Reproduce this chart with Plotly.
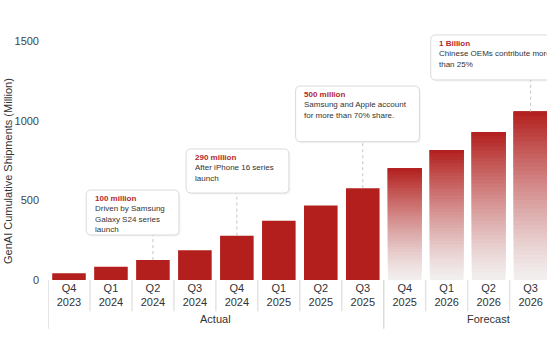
import plotly.graph_objects as go

# ---------------- data ----------------
quarters = ["Q4", "Q1", "Q2", "Q3", "Q4", "Q1", "Q2", "Q3", "Q4", "Q1", "Q2", "Q3"]
years = ["2023", "2024", "2024", "2024", "2024", "2025", "2025", "2025", "2025", "2026", "2026", "2026"]
shipments = [42, 83, 125, 187, 279, 373, 469, 577, 702, 817, 931, 1058]
is_forecast = [False] * 8 + [True] * 4
groups = ["Actual", "Forecast"]
group_centers = [3.5, 10]

callout_idx = [2, 4, 7, 11]
callout_titles = ["100 million", "290 million", "500 million", "1 Billion"]
callout_texts = [
    "Driven by Samsung<br>Galaxy S24 series<br>launch",
    "After iPhone 16 series<br>launch",
    "Samsung and Apple account<br>for more than 70% share.",
    "Chinese OEMs contribute more<br>than 25%",
]
# box layout: left (x units), right (x units), top, bottom (y units)
callout_boxes = [
    (0.41, 2.62, 566, 283),
    (2.79, 5.24, 824, 547),
    (5.40, 8.35, 1220, 870),
    (8.62, 11.60, 1541, 1258),
]

# ---------------- style ----------------
RED = (178, 31, 29)
PALE = (242, 239, 239)
N_SEG = 40
Y_MAX = 1572
PX_X = 41.97          # px per category
PX_Y = 250 / Y_MAX    # px per unit

x_idx = list(range(len(quarters)))
ticktext = [f"{q}<br>{y}" for q, y in zip(quarters, years)]

fig = go.Figure()

# actual bars
fig.add_trace(go.Bar(
    x=x_idx,
    y=[v if not f else None for v, f in zip(shipments, is_forecast)],
    marker=dict(color="rgb(%d,%d,%d)" % RED, line=dict(width=0)),
    width=0.8, hoverinfo="skip", showlegend=False,
))

# forecast bars: vertical gradient built from overlaid slices (each reaching the bar top)
fx = [i for i, f in zip(x_idx, is_forecast) if f]
fv = [v for v, f in zip(shipments, is_forecast) if f]
for k in range(N_SEG):
    t = (k + 0.5) / N_SEG
    w = t ** 1.25
    col = tuple(int(round(PALE[c] + (RED[c] - PALE[c]) * w)) for c in range(3))
    fig.add_trace(go.Bar(
        x=fx,
        y=[v * (1 - k / N_SEG) for v in fv],
        base=[v * k / N_SEG for v in fv],
        marker=dict(color="rgb(%d,%d,%d)" % col, line=dict(width=0)),
        width=0.8, hoverinfo="skip", showlegend=False,
    ))

shapes = []
annotations = []

# category separators under the axis
for i in range(len(quarters) - 1):
    if i == 7:
        continue
    shapes.append(dict(type="line", xref="x", yref="paper", x0=i + 0.5, x1=i + 0.5,
                       y0=0, y1=-0.125, line=dict(color="#e4e4e4", width=1.5)))
for xs in [-0.5, 7.5]:
    shapes.append(dict(type="line", xref="x", yref="paper", x0=xs, x1=xs,
                       y0=0, y1=-0.195, line=dict(color="#dcdcdc", width=1.5)))


def rounded_path(x0, x1, y0, y1, rpx=5):
    rx = rpx / PX_X
    ry = rpx / PX_Y
    return (f"M {x0+rx},{y0} L {x1-rx},{y0} Q {x1},{y0} {x1},{y0+ry} "
            f"L {x1},{y1-ry} Q {x1},{y1} {x1-rx},{y1} L {x0+rx},{y1} "
            f"Q {x0},{y1} {x0},{y1-ry} L {x0},{y0+ry} Q {x0},{y0} {x0+rx},{y0} Z")


for idx, title, body, (bl, br, bt, bb) in zip(callout_idx, callout_titles, callout_texts, callout_boxes):
    # dotted connector from bar top to box
    shapes.append(dict(type="line", xref="x", yref="y", x0=idx, x1=idx,
                       y0=shipments[idx], y1=bb, line=dict(color="#c4c4c4", width=1, dash="dot")))
    # soft shadow
    sx = 1.5 / PX_X
    sy = 1.5 / PX_Y
    shapes.append(dict(type="path", xref="x", yref="y",
                       path=rounded_path(bl + sx, br + sx, bb - sy, bt - sy),
                       fillcolor="rgba(0,0,0,0.05)", line=dict(width=0)))
    shapes.append(dict(type="path", xref="x", yref="y",
                       path=rounded_path(bl, br, bb, bt),
                       fillcolor="white", line=dict(color="#dadada", width=1)))
    annotations.append(dict(
        xref="x", yref="y", x=bl + 6.5 / PX_X, y=bt - 2.5 / PX_Y,
        xanchor="left", yanchor="top", align="left", showarrow=False,
        text=f"<b><span style='color:#b3272b'>{title}</span></b><br>{body}",
        font=dict(family="Liberation Sans, Arial", size=8, color="#333333"),
    ))

# group labels
for g, c in zip(groups, group_centers):
    annotations.append(dict(xref="x", yref="paper", x=c, y=-0.156, text=g,
                            showarrow=False, xanchor="center", yanchor="middle",
                            font=dict(family="Liberation Sans, Arial", size=11, color="#333333")))

# y-axis title
annotations.append(dict(xref="paper", yref="paper", x=-0.0802, y=0.436,
                        text="GenAI Cumulative Shipments (Million)", textangle=-90,
                        showarrow=False, xanchor="center", yanchor="middle",
                        font=dict(family="Liberation Sans, Arial", size=11, color="#333333")))

fig.update_layout(
    width=547, height=342,
    margin=dict(l=48, r=0, t=30, b=62),
    paper_bgcolor="white", plot_bgcolor="white",
    barmode="overlay", bargap=0.2,
    shapes=shapes, annotations=annotations,
    font=dict(family="Liberation Sans, Arial", size=11, color="#333333"),
    xaxis=dict(range=[-0.5, 11.39], tickmode="array", tickvals=x_idx, ticktext=ticktext,
               showgrid=False, zeroline=False, showline=False, ticks="",
               tickfont=dict(size=11, color="#333333")),
    yaxis=dict(range=[0, Y_MAX], tickvals=[0, 500, 1000, 1500], showgrid=False,
               zeroline=False, showline=False, ticks="", ticklabelstandoff=8,
               tickfont=dict(size=11, color="#444444")),
)

fig.write_html("out.html")
